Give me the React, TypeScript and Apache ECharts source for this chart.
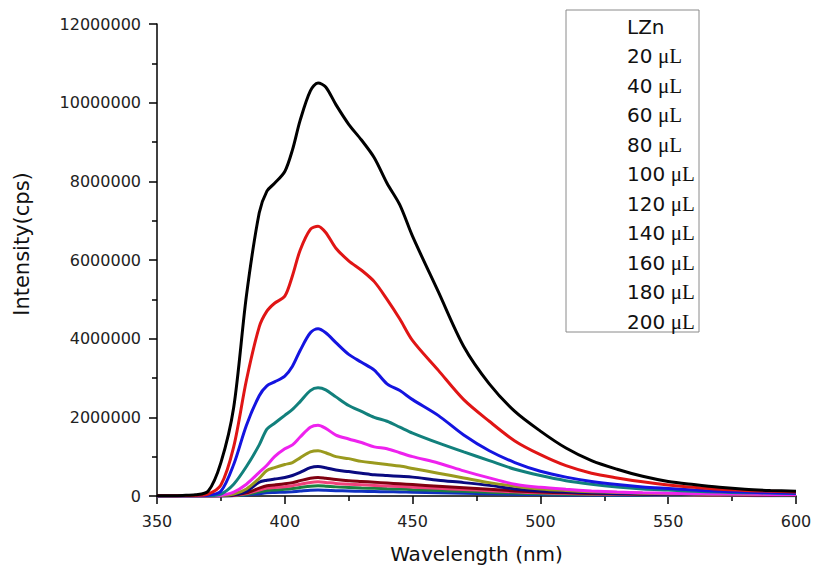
import React, { useEffect, useRef } from "react";
import * as echarts from "echarts";

const wavelengths = [350, 355, 360, 365, 370, 375, 380, 385, 390, 393, 396, 400, 403, 406, 410, 413, 416, 420, 425, 430, 435, 440, 445, 450, 460, 470, 480, 490, 500, 510, 520, 530, 540, 550, 560, 570, 580, 590, 600];

const seriesNames = ["LZn", "20 μL", "40 μL", "60 μL", "80 μL", "100 μL", "120 μL", "140 μL", "160 μL", "180 μL", "200 μL"];
const seriesColors = ["#000000", "#e01515", "#1414e0", "#12807c", "#ee22ee", "#9a9a1e", "#0a0a80", "#800010", "#f0407a", "#1a8040", "#1030c0"];

const lzn = [5000, 8000, 15000, 30000, 120000, 850000, 2250000, 5100000, 7200000, 7750000, 7950000, 8250000, 8800000, 9550000, 10300000, 10500000, 10400000, 9950000, 9450000, 9050000, 8600000, 7950000, 7400000, 6600000, 5200000, 3800000, 2850000, 2150000, 1650000, 1220000, 900000, 680000, 500000, 370000, 290000, 220000, 170000, 140000, 120000];
const v20 = [4000, 6000, 10000, 15000, 50000, 280000, 1250000, 2950000, 4300000, 4700000, 4900000, 5080000, 5600000, 6250000, 6780000, 6860000, 6700000, 6300000, 5980000, 5740000, 5450000, 5000000, 4500000, 3950000, 3200000, 2450000, 1900000, 1400000, 1050000, 770000, 580000, 460000, 360000, 280000, 220000, 170000, 140000, 120000, 100000];
const v40 = [3000, 4000, 6000, 8000, 20000, 120000, 800000, 1800000, 2550000, 2800000, 2900000, 3050000, 3300000, 3700000, 4150000, 4250000, 4150000, 3900000, 3600000, 3400000, 3200000, 2850000, 2680000, 2450000, 2050000, 1550000, 1150000, 850000, 630000, 480000, 370000, 290000, 230000, 190000, 150000, 120000, 100000, 80000, 70000];
const v60 = [2000, 3000, 4000, 5000, 10000, 50000, 300000, 750000, 1300000, 1700000, 1850000, 2050000, 2200000, 2400000, 2680000, 2750000, 2700000, 2520000, 2300000, 2150000, 2000000, 1900000, 1750000, 1600000, 1350000, 1120000, 900000, 680000, 520000, 390000, 300000, 230000, 180000, 150000, 120000, 100000, 85000, 75000, 65000];
const v80 = [2000, 2000, 3000, 3000, 5000, 20000, 100000, 300000, 600000, 780000, 1000000, 1200000, 1300000, 1500000, 1750000, 1800000, 1720000, 1550000, 1450000, 1360000, 1250000, 1200000, 1100000, 1000000, 840000, 640000, 460000, 300000, 220000, 170000, 130000, 100000, 80000, 70000, 60000, 50000, 50000, 40000, 40000];
const v100 = [1000, 2000, 2000, 2000, 4000, 10000, 50000, 180000, 450000, 650000, 720000, 800000, 850000, 970000, 1120000, 1150000, 1100000, 1000000, 950000, 880000, 840000, 800000, 760000, 700000, 580000, 460000, 340000, 250000, 180000, 140000, 110000, 90000, 70000, 60000, 50000, 45000, 40000, 35000, 30000];
const v120 = [1000, 1000, 1000, 1000, 2000, 6000, 30000, 120000, 350000, 400000, 430000, 470000, 520000, 600000, 720000, 750000, 720000, 660000, 620000, 580000, 540000, 520000, 500000, 480000, 400000, 340000, 270000, 180000, 130000, 100000, 80000, 60000, 50000, 45000, 40000, 35000, 30000, 30000, 25000];
const v140 = [1000, 1000, 1000, 1000, 1000, 4000, 20000, 80000, 200000, 260000, 280000, 310000, 340000, 390000, 450000, 470000, 450000, 420000, 390000, 370000, 350000, 330000, 310000, 290000, 250000, 210000, 170000, 130000, 100000, 80000, 65000, 55000, 45000, 40000, 35000, 30000, 28000, 25000, 22000];
const v160 = [1000, 1000, 1000, 1000, 1000, 3000, 15000, 60000, 150000, 200000, 215000, 235000, 260000, 300000, 345000, 360000, 345000, 320000, 300000, 285000, 270000, 255000, 240000, 225000, 195000, 165000, 135000, 105000, 80000, 65000, 52000, 44000, 37000, 32000, 28000, 25000, 22000, 20000, 18000];
const v180 = [1000, 1000, 1000, 1000, 1000, 2000, 10000, 40000, 105000, 140000, 155000, 170000, 190000, 215000, 250000, 260000, 250000, 232000, 218000, 205000, 195000, 185000, 175000, 162000, 140000, 118000, 96000, 76000, 58000, 47000, 38000, 32000, 27000, 23000, 20000, 18000, 16000, 14000, 13000];
const v200 = [500, 500, 500, 500, 1000, 1000, 6000, 25000, 60000, 80000, 88000, 98000, 110000, 125000, 145000, 150000, 145000, 135000, 127000, 120000, 114000, 108000, 102000, 95000, 82000, 70000, 57000, 45000, 35000, 28000, 23000, 19000, 16000, 14000, 12000, 11000, 10000, 9000, 8000];

const seriesValues = [lzn, v20, v40, v60, v80, v100, v120, v140, v160, v180, v200];

const xTicks = { min: 350, max: 600, interval: 50 };
const yTicks = { min: 0, max: 12000000, interval: 2000000 };

const sans = "DejaVu Sans, Arial, sans-serif";

export default function App() {
  const ref = useRef<HTMLDivElement>(null);
  useEffect(() => {
    if (!ref.current) return;
    const chart = echarts.init(ref.current, null, { renderer: "svg" });
    const series = seriesNames.map((name, i) => ({
      name,
      type: "line",
      data: wavelengths.map((w, j) => [w, seriesValues[i][j]]),
      showSymbol: false,
      smooth: 0.3,
      lineStyle: { color: seriesColors[i], width: 3 },
      itemStyle: { color: seriesColors[i] },
      z: 20 - i,
    }));
    const tickStyle = { color: "#000", width: 1.5 };
    chart.setOption({
      animation: false,
      backgroundColor: "#ffffff",
      grid: { left: 157, right: 19, top: 24, bottom: 75 },
      xAxis: {
        type: "value",
        min: xTicks.min,
        max: xTicks.max,
        interval: xTicks.interval,
        name: "Wavelength (nm)",
        nameLocation: "middle",
        nameGap: 48,
        nameTextStyle: { fontFamily: sans, fontSize: 20, color: "#111" },
        axisLine: { show: true, lineStyle: { color: "#000", width: 1.5 } },
        axisTick: { show: true, inside: false, length: 8, lineStyle: tickStyle },
        minorTick: { show: true, splitNumber: 2, length: 5, lineStyle: tickStyle },
        axisLabel: { fontFamily: sans, fontSize: 16, color: "#222", margin: 17 },
        splitLine: { show: false },
      },
      yAxis: {
        type: "value",
        min: yTicks.min,
        max: yTicks.max,
        interval: yTicks.interval,
        name: "Intensity(cps)",
        nameLocation: "middle",
        nameGap: 125,
        nameTextStyle: { fontFamily: sans, fontSize: 21, color: "#111", padding: [0, 0, 0, 32] },
        axisLine: { show: true, lineStyle: { color: "#000", width: 1.5 } },
        axisTick: { show: true, inside: false, length: 8, lineStyle: tickStyle },
        minorTick: { show: true, splitNumber: 2, length: 5, lineStyle: tickStyle },
        axisLabel: { fontFamily: sans, fontSize: 16, color: "#222", margin: 16, formatter: (v: number) => String(v) },
        splitLine: { show: false },
      },
      legend: {
        orient: "vertical",
        left: 622,
        top: 17,
        icon: "none",
        itemWidth: 0,
        itemHeight: 14,
        itemGap: 8.5,
        padding: 0,
        data: seriesNames,
        formatter: (name: string) => {
          if (name === "LZn") return "{n|LZn}";
          const num = name.split(" ")[0];
          return `{n|${num}} {u|μL}`;
        },
        textStyle: {
          color: "#111",
          fontSize: 20,
          rich: {
            n: { fontFamily: sans, fontSize: 20, color: "#111" },
            u: { fontFamily: "Liberation Serif, Times New Roman, serif", fontSize: 21, color: "#111" },
          },
        },
      },
      graphic: [
        {
          type: "rect",
          shape: { x: 566, y: 10, width: 133, height: 322 },
          style: { fill: "none", stroke: "#8a8a8a", lineWidth: 1 },
          silent: true,
        },
      ],
      series,
    });
    return () => chart.dispose();
  }, []);
  return <div ref={ref} style={{ position: "fixed", left: 0, top: 0, width: 815, height: 571 }} />;
}
